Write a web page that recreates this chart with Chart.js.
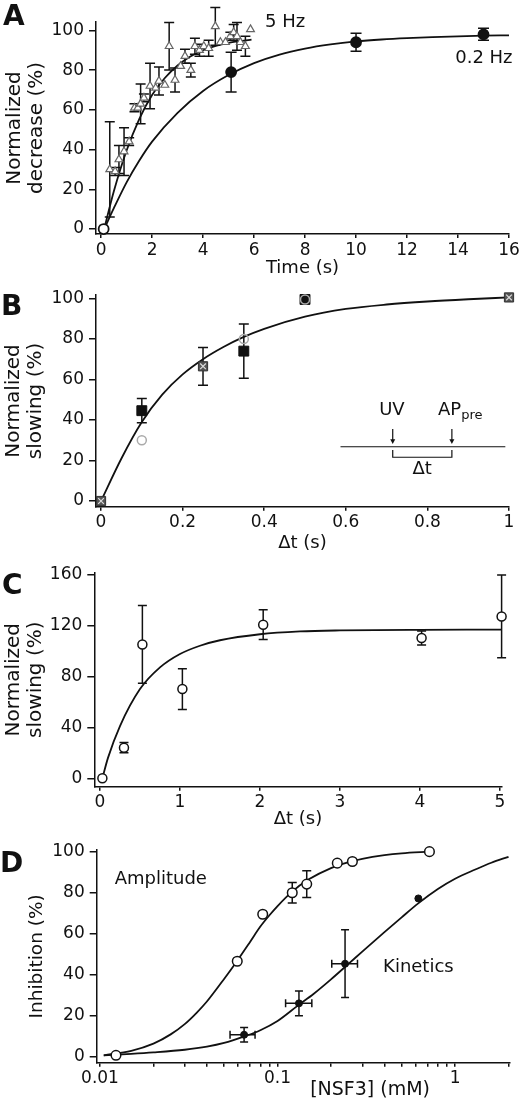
<!DOCTYPE html>
<html>
<head>
<meta charset="utf-8">
<title>Figure</title>
<script src="https://cdn.jsdelivr.net/npm/chart.js@4.4.1/dist/chart.umd.min.js"></script>
<style>
  body { margin: 0; background: #fff; }
  .panel { position: absolute; left: 0; width: 526px; }
</style>
</head>
<body>
<div class="panel" style="top:0px;height:280px"><canvas id="chartA"></canvas></div>
<div class="panel" style="top:280px;height:275px"><canvas id="chartB"></canvas></div>
<div class="panel" style="top:555px;height:275px"><canvas id="chartC"></canvas></div>
<div class="panel" style="top:830px;height:270px"><canvas id="chartD"></canvas></div>
<script>
// ---- A: normalized decrease vs time ----
const fiveHzTime = [0.34, 0.55, 0.7, 0.9, 1.1, 1.31, 1.44, 1.55, 1.68, 1.92, 2.14, 2.27, 2.5, 2.67, 2.9, 3.12, 3.29, 3.52, 3.68, 3.86, 4.03, 4.22, 4.48, 4.68, 4.88, 5.07, 5.2, 5.33, 5.46, 5.66, 5.86];
const fiveHzDecrease = [30, 29, 35, 39, 44, 61, 61, 63, 66, 72, 71, 74.5, 72.5, 92, 75, 82, 87, 80, 92, 90, 92, 91, 102, 94, 94, 97, 99, 97, 94, 92, 100.5];
const fiveHzErr = [24, 2, 7, 12, 2, 2, 0, 10, 2, 11.5, 0, 7, 0, 12, 6, 0, 3.5, 3.5, 4, 3, 0, 4, 9.5, 0, 0, 2, 4, 7, 0, 5, 0];
const slowTime = [0.1, 5.1, 10, 15];
const slowDecrease = [0, 79, 94, 98];
const slowErr = [0, 10, 4.5, 3];
const fit5HzTime = [0.12, 0.5, 1, 1.5, 2, 2.5, 3, 3.5, 4, 4.5, 5, 5.5, 5.9];
const fit5HzValue = [0, 19, 39.5, 55.5, 67.5, 76, 82.3, 86.8, 90, 92.2, 93.7, 94.7, 95.3];
const fitSlowTime = [0.12, 0.5, 1, 1.5, 2, 3, 4, 5, 6, 7, 8, 9, 10, 11, 12, 13, 14, 15, 16];
const fitSlowValue = [0, 10.5, 23.5, 34.5, 44, 58.5, 69.5, 77.5, 83.5, 87.8, 90.8, 92.9, 94.4, 95.4, 96.1, 96.6, 97, 97.3, 97.5];
const timeTicks = [0, 2, 4, 6, 8, 10, 12, 14, 16];
const percentTicks = [0, 20, 40, 60, 80, 100];

// ---- B: normalized slowing vs delay (short) ----
const squareDelay = [0.1, 0.35, 0.5];
const squareSlowing = [44.6, 74, 99.5];
const squareErr = [6, 13.4, 0];
const crossDelay = [0, 0.25, 1];
const crossSlowing = [0, 66.5, 100.5];
const crossErr = [0, 9.3, 0];
const circleDelay = [0.1, 0.35, 0.5];
const circleSlowing = [30, 80, 99.5];
const fitBDelay = [0, 0.05, 0.1, 0.15, 0.2, 0.25, 0.3, 0.35, 0.4, 0.5, 0.6, 0.7, 0.8, 0.9, 1];
const fitBValue = [0, 21, 39, 52.5, 62.5, 70, 76, 81, 85, 91, 94.8, 97, 98.5, 99.6, 100.5];
const delayTicksB = [0, 0.2, 0.4, 0.6, 0.8, 1];
const delayLabelsB = ['0', '0.2', '0.4', '0.6', '0.8', '1'];

// ---- C: normalized slowing vs delay (long) ----
const delayC = [0.03, 0.3, 0.53, 1.03, 2.04, 4.02, 5.02];
const slowingC = [0, 24, 105, 70, 120.5, 110, 127];
const errC = [0, 4, 30.5, 16, 11.7, 5.5, 32.5];
const fitCDelay = [0.03, 0.1, 0.25, 0.5, 0.75, 1, 1.25, 1.5, 2, 2.5, 3, 4, 5.02];
const fitCValue = [0, 16, 41, 70, 87, 97.5, 104, 108.3, 113, 115.2, 116, 116.5, 116.6];
const delayTicksC = [0, 1, 2, 3, 4, 5];
const slowingTicksC = [0, 40, 80, 120, 160];

// ---- D: inhibition vs [NSF3] ----
const ampConc = [0.0123, 0.0593, 0.0825, 0.121, 0.146, 0.217, 0.264, 0.717];
const ampInhib = [0.8, 46.6, 69.5, 80, 84.2, 94.4, 95.2, 100];
const ampErr = [0, 0, 0, 5, 6.5, 0, 0, 0];
const kinConc = [0.0648, 0.132, 0.24, 0.621];
const kinInhib = [10.8, 26.1, 45.4, 77.2];
const kinErr = [3.5, 6, 16.5, 0];
const kinConcLo = [0.054, 0.111, 0.202, 0.621];
const kinConcHi = [0.0747, 0.156, 0.282, 0.621];
const fitAmpConc = [0.0105, 0.015, 0.02, 0.025, 0.03, 0.035, 0.04, 0.05, 0.06, 0.07, 0.08, 0.09, 0.1, 0.12, 0.15, 0.2, 0.25, 0.3, 0.4, 0.5, 0.72];
const fitAmpValue = [0.8, 3, 6.5, 11, 16, 21.5, 27, 38, 47.5, 56, 63.5, 69, 73.5, 80.3, 86.5, 92, 94.8, 96.5, 98.3, 99.2, 100];
const fitKinConc = [0.0105, 0.015, 0.02, 0.03, 0.04, 0.05, 0.065, 0.08, 0.1, 0.13, 0.16, 0.2, 0.25, 0.3, 0.4, 0.5, 0.62, 0.8, 1, 1.3, 1.6, 2];
const fitKinValue = [0.8, 1.5, 2.2, 3.5, 5, 6.8, 10, 13, 17.5, 25, 30.8, 37.8, 45.2, 51.3, 60.8, 68, 74.8, 81.8, 86.8, 91.3, 94.6, 97.5];
const concTicks = [0.01, 0.02, 0.03, 0.04, 0.05, 0.06, 0.07, 0.08, 0.09, 0.1, 0.2, 0.3, 0.4, 0.5, 0.6, 0.7, 0.8, 0.9, 1, 2];
const concMajor = [0.01, 0.1, 1];
const concLabels = ['0.01', '0.1', '1'];

const ink = '#111';
const fam = '"DejaVu Sans", sans-serif';
Chart.defaults.font.family = fam;
Chart.defaults.color = ink;
Chart.defaults.animation = false;
Chart.defaults.plugins.legend.display = false;
Chart.defaults.plugins.tooltip.enabled = false;

const pts = (xs, ys) => xs.map((x, i) => ({x: x, y: ys[i]}));

function xAxis(o) {
  const ticks = {autoSkip: false, maxRotation: 0, padding: 2, font: {size: 17}, color: ink};
  if (o.labels) {
    const major = o.major || o.ticks;
    ticks.callback = v => { const i = major.indexOf(v); return i >= 0 ? o.labels[i] : ''; };
  }
  return {
    type: o.type || 'linear', min: o.min, max: o.max,
    afterBuildTicks: s => { s.ticks = o.ticks.map(v => ({value: v})); },
    afterFit: s => { s.height = o.height; },
    border: {display: true, color: ink, width: 1.5},
    grid: {drawOnChartArea: false, color: ink, lineWidth: 1.5, tickLength: 4},
    ticks: ticks,
    title: o.title
      ? {display: true, text: o.title, color: ink, font: {size: 18, lineHeight: 1.2}, padding: {top: 0, bottom: o.titlePad}}
      : {display: false}
  };
}

function yAxis(o) {
  return {
    type: 'linear', min: o.min, max: o.max,
    afterBuildTicks: s => { s.ticks = o.ticks.map(v => ({value: v})); },
    afterFit: s => { s.width = o.width; },
    border: {display: true, color: ink, width: 1.5},
    grid: {drawOnChartArea: false, color: ink, lineWidth: 1.5, tickLength: 7},
    ticks: {autoSkip: false, padding: 5, font: {size: 17}, color: ink},
    title: {display: true, text: o.title, color: ink, font: {size: o.titleSize || 20, lineHeight: 1.1}, padding: {top: o.titlePad, bottom: 0}}
  };
}

function curve(xs, ys) {
  return {data: pts(xs, ys), showLine: true, borderColor: ink, borderWidth: 1.8, pointRadius: 0,
          cubicInterpolationMode: 'monotone', clip: false, order: 5};
}

// error bars drawn beneath the markers
const errorBars = {
  id: 'errorBars',
  beforeDatasetsDraw(chart) {
    const ctx = chart.ctx, xs = chart.scales.x, ys = chart.scales.y;
    ctx.save();
    ctx.strokeStyle = ink;
    ctx.lineWidth = 1.5;
    chart.data.datasets.forEach(ds => {
      if (!ds.yErr && !ds.xLo) return;
      const cap = ds.cap || 5;
      ds.data.forEach((p, i) => {
        const px = xs.getPixelForValue(p.x);
        const py = ys.getPixelForValue(p.y);
        ctx.beginPath();
        const e = ds.yErr ? ds.yErr[i] : 0;
        if (e) {
          const top = ys.getPixelForValue(p.y + e);
          const bot = ys.getPixelForValue(p.y - e);
          ctx.moveTo(px, top); ctx.lineTo(px, bot);
          ctx.moveTo(px - cap, top); ctx.lineTo(px + cap, top);
          ctx.moveTo(px - cap, bot); ctx.lineTo(px + cap, bot);
        }
        if (ds.xLo && ds.xLo[i] !== ds.xHi[i]) {
          const l = xs.getPixelForValue(ds.xLo[i]);
          const r = xs.getPixelForValue(ds.xHi[i]);
          ctx.moveTo(l, py); ctx.lineTo(r, py);
          ctx.moveTo(l, py - cap); ctx.lineTo(l, py + cap);
          ctx.moveTo(r, py - cap); ctx.lineTo(r, py + cap);
        }
        ctx.stroke();
      });
    });
    ctx.restore();
  }
};

// free text: panel letters (canvas px) and labels (data units)
function notes(items) {
  return {
    id: 'notes',
    afterDraw(chart) {
      const ctx = chart.ctx;
      ctx.save();
      ctx.fillStyle = ink;
      items.forEach(n => {
        const px = n.px !== undefined ? n.px : chart.scales.x.getPixelForValue(n.x);
        const py = n.py !== undefined ? n.py : chart.scales.y.getPixelForValue(n.y);
        ctx.font = n.font || '18px ' + fam;
        ctx.textAlign = n.align || 'left';
        ctx.textBaseline = n.base || 'middle';
        ctx.fillText(n.text, px, py);
        if (n.sub) {
          const w = ctx.measureText(n.text).width;
          ctx.font = '13px ' + fam;
          ctx.fillText(n.sub, px + w, py + 6);
        }
      });
      ctx.restore();
    }
  };
}
const letterFont = 'bold 28px ' + fam;

// stimulus timing sketch in panel B
const timingInset = {
  id: 'timingInset',
  afterDatasetsDraw(chart) {
    const ctx = chart.ctx;
    const X = v => chart.scales.x.getPixelForValue(v);
    const Y = v => chart.scales.y.getPixelForValue(v);
    ctx.save();
    ctx.strokeStyle = ink;
    ctx.fillStyle = ink;
    ctx.lineWidth = 1.2;
    ctx.beginPath();
    ctx.moveTo(X(0.587), Y(26.8)); ctx.lineTo(X(0.991), Y(26.8));
    [0.715, 0.86].forEach(t => { ctx.moveTo(X(t), Y(35.5)); ctx.lineTo(X(t), Y(30)); });
    ctx.moveTo(X(0.715), Y(25.2)); ctx.lineTo(X(0.715), Y(21.6));
    ctx.lineTo(X(0.86), Y(21.6)); ctx.lineTo(X(0.86), Y(25.2));
    ctx.stroke();
    [0.715, 0.86].forEach(t => {
      ctx.beginPath();
      ctx.moveTo(X(t) - 2.5, Y(30.5)); ctx.lineTo(X(t) + 2.5, Y(30.5)); ctx.lineTo(X(t), Y(28.2));
      ctx.closePath(); ctx.fill();
    });
    ctx.restore();
  }
};

// ---- Panel A ----
new Chart(document.getElementById('chartA'), {
  type: 'scatter',
  data: {datasets: [
    {data: pts(slowTime, slowDecrease), yErr: slowErr, cap: 5.5, pointRadius: 5,
     pointBackgroundColor: ['#fff', ink, ink, ink], pointBorderColor: ink, pointBorderWidth: 1.8, clip: false, order: 0},
    {data: pts(fiveHzTime, fiveHzDecrease), yErr: fiveHzErr, cap: 5, pointStyle: 'triangle', pointRadius: 4.5,
     pointBackgroundColor: '#fff', pointBorderColor: '#666', pointBorderWidth: 1.2, clip: false, order: 1},
    curve(fit5HzTime, fit5HzValue),
    curve(fitSlowTime, fitSlowValue)
  ]},
  options: {
    responsive: true, maintainAspectRatio: false,
    layout: {padding: {left: 0, right: 17, top: 22, bottom: 0}},
    scales: {
      x: xAxis({min: -0.2, max: 16, ticks: timeTicks, height: 46, title: 'Time (s)', titlePad: 1}),
      y: yAxis({min: -2.5, max: 104.2, ticks: percentTicks, width: 96, title: ['Normalized', 'decrease (%)'], titlePad: 4})
    }
  },
  plugins: [errorBars, notes([
    {text: 'A', px: 3, py: 25, font: letterFont, base: 'alphabetic'},
    {text: '5 Hz', x: 6.43, y: 103.9},
    {text: '0.2 Hz', x: 16.14, y: 86, align: 'right'}
  ])]
});

// ---- Panel B ----
new Chart(document.getElementById('chartB'), {
  type: 'scatter',
  data: {datasets: [
    {data: pts(circleDelay, circleSlowing), pointRadius: 4.5, pointBackgroundColor: 'rgba(0,0,0,0)',
     pointBorderColor: '#aaa', pointBorderWidth: 1.5, clip: false, order: 0},
    {data: pts(crossDelay, crossSlowing), pointStyle: 'crossRot', pointRadius: 4,
     pointBorderColor: '#ddd', pointBorderWidth: 1.2, clip: false, order: 1},
    {data: pts(crossDelay, crossSlowing), yErr: crossErr, cap: 5, pointStyle: 'rect', pointRadius: 6.5,
     pointBackgroundColor: '#555', pointBorderColor: '#333', pointBorderWidth: 1, clip: false, order: 2},
    {data: pts(squareDelay, squareSlowing), yErr: squareErr, cap: 5, pointStyle: 'rect', pointRadius: 7,
     pointBackgroundColor: ink, pointBorderColor: ink, pointBorderWidth: 1, clip: false, order: 3},
    curve(fitBDelay, fitBValue)
  ]},
  options: {
    responsive: true, maintainAspectRatio: false,
    layout: {padding: {left: 0, right: 17, top: 15, bottom: 0}},
    scales: {
      x: xAxis({min: -0.0123, max: 1, ticks: delayTicksB, labels: delayLabelsB, height: 48.3, title: 'Δt (s)', titlePad: 1}),
      y: yAxis({min: -2.8, max: 101.6, ticks: percentTicks, width: 96, title: ['Normalized', 'slowing (%)'], titlePad: 3})
    }
  },
  plugins: [errorBars, timingInset, notes([
    {text: 'B', px: 1, py: 35, font: letterFont, base: 'alphabetic'},
    {text: 'UV', x: 0.713, y: 44.9, align: 'center'},
    {text: 'AP', x: 0.826, y: 44.9, sub: 'pre'},
    {text: 'Δt', x: 0.787, y: 15.8, align: 'center'}
  ])]
});

// ---- Panel C ----
new Chart(document.getElementById('chartC'), {
  type: 'scatter',
  data: {datasets: [
    {data: pts(delayC, slowingC), yErr: errC, cap: 4.5, pointRadius: 4.5, pointBackgroundColor: '#fff',
     pointBorderColor: ink, pointBorderWidth: 1.5, clip: false, order: 0},
    curve(fitCDelay, fitCValue)
  ]},
  options: {
    responsive: true, maintainAspectRatio: false,
    layout: {padding: {left: 0, right: 24.4, top: 17.7, bottom: 0}},
    scales: {
      x: xAxis({min: -0.071, max: 5.02, ticks: delayTicksC, height: 43.3, title: 'Δt (s)', titlePad: 0}),
      y: yAxis({min: -6.6, max: 161.3, ticks: slowingTicksC, width: 94.3, title: ['Normalized', 'slowing (%)'], titlePad: 3})
    }
  },
  plugins: [errorBars, notes([
    {text: 'C', px: 2, py: 39, font: letterFont, base: 'alphabetic'}
  ])]
});

// ---- Panel D ----
new Chart(document.getElementById('chartD'), {
  type: 'scatter',
  data: {datasets: [
    {data: pts(kinConc, kinInhib), yErr: kinErr, xLo: kinConcLo, xHi: kinConcHi, cap: 4, pointRadius: 3.5,
     pointBackgroundColor: ink, pointBorderColor: ink, pointBorderWidth: 1, clip: false, order: 0},
    {data: pts(ampConc, ampInhib), yErr: ampErr, cap: 4.5, pointRadius: 4.8, pointBackgroundColor: '#fff',
     pointBorderColor: ink, pointBorderWidth: 1.5, clip: false, order: 1},
    curve(fitAmpConc, fitAmpValue),
    curve(fitKinConc, fitKinValue)
  ]},
  options: {
    responsive: true, maintainAspectRatio: false,
    layout: {padding: {left: 0, right: 16.7, top: 20, bottom: 0}},
    scales: {
      x: xAxis({type: 'logarithmic', min: 0.00958, max: 2.02, ticks: concTicks, major: concMajor, labels: concLabels, height: 37.3}),
      y: yAxis({min: -2.8, max: 100.8, ticks: percentTicks, width: 96.7, title: 'Inhibition (%)', titleSize: 18.5, titlePad: 27})
    }
  },
  plugins: [errorBars, notes([
    {text: 'D', px: 0, py: 42, font: letterFont, base: 'alphabetic'},
    {text: 'Amplitude', x: 0.0121, y: 86.6},
    {text: 'Kinetics', x: 0.393, y: 43.6},
    {text: '[NSF3] (mM)', x: 0.332, y: -16.2, align: 'center', font: '19px ' + fam}
  ])]
});
</script>
</body>
</html>
